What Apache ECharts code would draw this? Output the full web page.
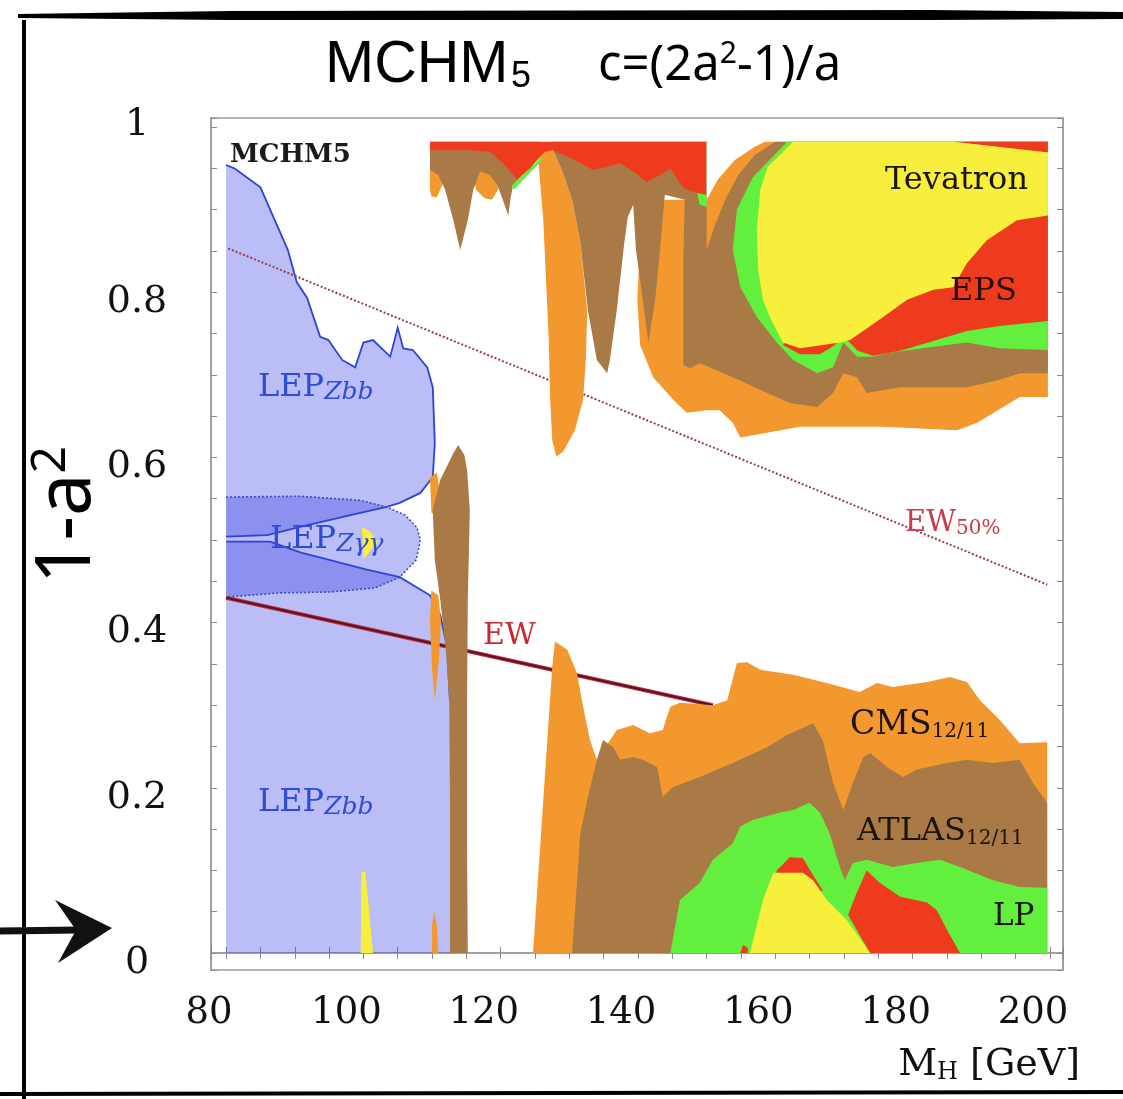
<!DOCTYPE html>
<html><head><meta charset="utf-8">
<script src="https://cdn.jsdelivr.net/npm/echarts@6/dist/echarts.min.js"></script>
<style>html,body{margin:0;padding:0;background:#fff}#c{width:1123px;height:1099px}</style>
</head><body><div id="c"></div>
<script>
// ---------- axis ticks ----------
const X_LABEL_STEP = 20;            // labelled ticks 80..200
const Y_LABEL_STEP = 0.2;           // labelled ticks 0..1

// ---------- LEP regions (M_H [GeV], 1-a^2) ----------
const LEP_ZBB_UPPER = [[80,0.504],[80,0.954],[81.2,0.950],[85.0,0.927],[89.0,0.851],[90.3,0.812],[91.8,0.793],[93.7,0.746],[94.9,0.742],[96.9,0.718],[98.8,0.709],[100.0,0.739],[101.4,0.742],[103.9,0.722],[105.0,0.757],[105.8,0.732],[107.2,0.730],[109.3,0.709],[110.1,0.685],[110.4,0.617],[110.1,0.576],[108.3,0.557],[105.3,0.545],[103.4,0.540],[98.1,0.530],[90.8,0.516],[86.0,0.506]];
const LEP_ZBB_LOWER = [[80,0.498],[86.4,0.498],[90.8,0.485],[100.5,0.464],[105.3,0.455],[109.7,0.433],[111.2,0.409],[112.2,0.370],[112.6,0.306],[112.6,0],[80,0]];
const LEP_ZAA = [[80,0.552],[90.8,0.553],[99.5,0.548],[103.4,0.540],[106.1,0.530],[107.8,0.515],[108.3,0.500],[107.7,0.476],[105.3,0.455],[101.7,0.442],[95.1,0.437],[87.9,0.436],[80,0.431]];

// ---------- electroweak lines ----------
const EW_LINE = [[80,0.430],[150.9,0.300]];
const EW50_LINE = [[80.3,0.853],[199.6,0.446]];

// ---------- CMS 12/11 (orange) ----------
const CMS_TOP1 = [[109.7,0.960],[111.9,0.960],[111.5,0.930],[110.7,0.915],[109.9,0.916],[109.7,0.924]];
const CMS_TOP2 = [[115.8,0.951],[119.9,0.951],[119.6,0.924],[118.7,0.912],[117.6,0.914],[116.4,0.924]];
const CMS_FINGER = [[125.4,0.972],[127.6,0.972],[128.9,0.948],[130.4,0.912],[131.6,0.860],[132.6,0.778],[132.4,0.718],[132.0,0.670],[130.8,0.633],[129.1,0.607],[128.1,0.601],[127.5,0.621],[127.2,0.670],[127.0,0.742],[126.6,0.815],[126.2,0.887],[125.7,0.936]];
const CMS_TOP_RIGHT = [[139.9,0.791],[140.3,0.863],[141.7,0.906],[143.2,0.912],[150.0,0.912],[151.6,0.936],[154.1,0.960],[157.0,0.976],[158.5,0.982],[199.7,0.982],[199.7,0.673],[195.6,0.673],[189.4,0.642],[186.5,0.633],[175.7,0.637],[163.6,0.637],[154.9,0.624],[153.8,0.642],[151.9,0.657],[150.0,0.657],[147.1,0.654],[145.1,0.670],[142.2,0.697],[140.3,0.736]];
const CMS_BOTTOM = [[124.7,0],[126.2,0.185],[127.5,0.346],[127.9,0.377],[129.7,0.367],[131.1,0.339],[132.0,0.298],[133.0,0.258],[134.0,0.234],[136.9,0.270],[139.3,0.276],[141.7,0.266],[143.6,0.270],[144.7,0.298],[146.1,0.303],[150.9,0.300],[153.0,0.306],[154.4,0.351],[155.9,0.352],[157.8,0.343],[162.6,0.337],[167.5,0.327],[172.3,0.316],[174.8,0.327],[177.1,0.322],[182.1,0.328],[185.4,0.334],[187.9,0.328],[189.8,0.306],[192.7,0.282],[195.6,0.254],[199.6,0.255],[199.6,0]];
const CMS_SLIVER1 = [[109.7,0.575],[110.7,0.582],[111.3,0.548],[110.7,0.530],[109.9,0.533]];
const CMS_SLIVER2 = [[109.9,0.439],[110.9,0.433],[111.3,0.403],[111.0,0.355],[110.4,0.306],[110.0,0.343],[109.7,0.403]];
const CMS_SLIVER3 = [[110.0,0],[110.0,0.034],[110.3,0.050],[110.7,0.034],[110.9,0]];

// ---------- ATLAS 12/11 (brown) ----------
const ATLAS_TOP_LEFT = [[109.7,0.982],[125.7,0.982],[125.7,0.964],[125.3,0.960],[123.1,0.942],[121.8,0.930],[121.4,0.912],[121.1,0.893],[120.3,0.912],[119.5,0.930],[118.4,0.942],[117.0,0.946],[116.0,0.924],[115.2,0.887],[114.1,0.851],[113.1,0.887],[111.9,0.924],[110.9,0.942],[109.7,0.948]];
const ATLAS_TOP_MID = [[127.6,0.982],[150.0,0.982],[150.0,0.915],[146.8,0.912],[143.9,0.918],[143.2,0.851],[142.5,0.791],[141.5,0.739],[140.7,0.791],[139.7,0.851],[139.3,0.906],[138.5,0.891],[138.0,0.860],[136.9,0.778],[135.9,0.718],[135.5,0.702],[134.0,0.718],[132.7,0.778],[131.6,0.860],[130.4,0.912],[128.9,0.948],[127.6,0.972]];
const ATLAS_TOP_RIGHT = [[146.6,0.712],[146.6,0.839],[146.8,0.912],[148.6,0.920],[150.0,0.915],[150.0,0.851],[151.2,0.881],[152.7,0.912],[154.6,0.942],[157.0,0.966],[160.0,0.982],[199.7,0.982],[199.7,0.702],[195.6,0.702],[192.7,0.694],[187.9,0.685],[178.2,0.685],[173.3,0.678],[171.9,0.697],[169.9,0.702],[168.4,0.678],[166.1,0.661],[162.1,0.666],[158.8,0.678],[153.8,0.697],[149.0,0.714],[147.6,0.708]];
const ATLAS_SPIKE = [[112.6,0],[112.6,0.185],[112.5,0.306],[112.0,0.367],[111.2,0.427],[110.4,0.476],[110.1,0.536],[111.2,0.573],[113.1,0.605],[113.8,0.615],[114.7,0.603],[115.1,0.585],[115.5,0.536],[115.2,0.427],[115.1,0.306],[115.1,0.125],[115.2,0]];
const ATLAS_BOTTOM = [[130.4,0],[131.6,0.145],[132.6,0.185],[134.0,0.234],[134.9,0.258],[136.4,0.249],[137.4,0.234],[139.3,0.237],[140.7,0.234],[142.8,0.225],[143.6,0.189],[145.1,0.201],[149.0,0.213],[153.8,0.230],[158.8,0.249],[161.7,0.264],[165.5,0.278],[166.9,0.258],[168.4,0.206],[169.9,0.173],[171.3,0.206],[172.8,0.237],[173.8,0.242],[176.3,0.225],[178.6,0.213],[180.6,0.222],[185.0,0.230],[187.9,0.234],[191.7,0.230],[195.6,0.234],[197.5,0.206],[199.6,0.182],[199.6,0]];

// ---------- LP (green) ----------
const LP_SLIVER1 = [[121.6,0.929],[123.1,0.941],[125.0,0.956],[125.9,0.964],[126.0,0.959],[125.1,0.952],[123.4,0.937],[121.9,0.924]];
const LP_SLIVER2 = [[148.6,0.920],[150.0,0.920],[150.0,0.903],[149.0,0.906]];
const LP_TOP = [[161.7,0.982],[158.2,0.952],[156.7,0.939],[154.4,0.900],[153.8,0.851],[154.9,0.806],[157.3,0.770],[160.2,0.739],[162.6,0.718],[166.1,0.702],[168.4,0.709],[169.9,0.739],[171.9,0.722],[174.2,0.722],[176.3,0.726],[183.0,0.734],[187.9,0.739],[192.7,0.732],[199.7,0.730],[199.7,0.982]];
const LP_BOTTOM = [[144.7,0],[146.1,0.064],[149.0,0.085],[150.9,0.113],[153.8,0.133],[154.9,0.153],[156.7,0.161],[160.7,0.170],[162.6,0.173],[165.0,0.182],[166.5,0.170],[167.9,0.145],[169.4,0.104],[170.1,0.088],[171.3,0.109],[173.3,0.113],[177.1,0.104],[180.6,0.109],[184.0,0.113],[186.9,0.104],[191.7,0.088],[195.6,0.080],[199.6,0.079],[199.6,0]];

// ---------- EPS (red) ----------
const EPS_TOP_BAND = [[109.7,0.982],[149.9,0.982],[149.9,0.918],[148.6,0.920],[146.6,0.926],[144.7,0.950],[143.2,0.942],[141.3,0.933],[139.3,0.946],[137.4,0.956],[135.5,0.952],[133.4,0.948],[130.8,0.960],[127.6,0.972],[126.5,0.970],[125.7,0.964],[124.3,0.950],[122.4,0.936],[120.6,0.954],[118.4,0.970],[115.5,0.972],[109.7,0.972]];
const EPS_RIGHT = [[161.1,0.736],[163.6,0.725],[166.5,0.725],[168.3,0.734],[169.4,0.741],[170.6,0.741],[172.0,0.729],[174.2,0.723],[178.2,0.729],[183.0,0.741],[187.9,0.753],[192.7,0.759],[199.7,0.765],[199.7,0.900],[192.7,0.881],[186.9,0.839],[178.2,0.791],[170.9,0.754],[162.1,0.745]];
const EPS_CORNER = [[185.9,0.982],[199.7,0.982],[199.7,0.969]];
const EPS_BOTTOM1 = [[160.0,0.064],[160.2,0.100],[162.1,0.116],[164.0,0.115],[165.5,0.094],[166.9,0.076],[165.8,0.070],[163.6,0.076]];
const EPS_BOTTOM2 = [[170.6,0.046],[171.7,0.070],[173.3,0.100],[175.2,0.085],[178.2,0.068],[182.1,0.061],[183.5,0.052],[185.0,0.028],[186.9,0],[173.8,0]];
const EPS_BOTTOM3 = [[154.9,0],[155.3,0.010],[156.0,0.006],[156.0,0]];

// ---------- Tevatron (yellow) ----------
const TEV_TOP = [[162.6,0.982],[185.9,0.982],[199.7,0.969],[199.7,0.893],[195.2,0.887],[190.8,0.863],[187.9,0.835],[185.9,0.806],[183.0,0.803],[179.2,0.791],[175.7,0.770],[170.9,0.742],[169.4,0.739],[163.6,0.732],[161.1,0.739],[159.2,0.770],[158.2,0.791],[157.5,0.827],[157.3,0.875],[157.8,0.924],[158.9,0.952]];
const TEV_BOTTOM = [[156.3,0],[158.2,0.064],[159.7,0.097],[164.0,0.097],[165.5,0.088],[167.5,0.064],[170.4,0.040],[173.8,0]];
const TEV_BLOB = [[99.8,0.516],[101.0,0.510],[102.1,0.497],[101.0,0.487],[100.0,0.476]];
const TEV_SPIKE = [[99.6,0],[99.7,0.098],[100.3,0.098],[101.4,0]];

// ---------- colours ----------
const C_LEP = 'rgba(48,57,228,0.333)';
const C_BLUE = '#2f44d4';
const C_CMS = '#f3982f';
const C_ATLAS = '#a97a45';
const C_LP = '#62ef3e';
const C_EPS = '#ee3b1e';
const C_TEV = '#f8ef3c';

const chart = echarts.init(document.getElementById('c'), null, {renderer: 'canvas'});

function poly(name, pts, style) {
  return {
    type: 'custom', name: name, data: pts, silent: true, animation: false,
    renderItem: function (params, api) {
      if (params.dataIndex !== 0) return null;
      return { type: 'polygon', shape: { points: pts.map(p => api.coord(p)) }, style: style };
    }
  };
}
function pline(name, pts, style) {
  return {
    type: 'custom', name: name, data: pts, silent: true, animation: false,
    renderItem: function (params, api) {
      if (params.dataIndex !== 0) return null;
      return { type: 'polyline', shape: { points: pts.map(p => api.coord(p)) }, style: Object.assign({ fill: null }, style) };
    }
  };
}

const upperOutline = LEP_ZBB_UPPER.slice(1).concat([LEP_ZBB_UPPER[0]]);
const lowerOutline = LEP_ZBB_LOWER.slice(0, 9);

const series = [
  poly('LEP Zbb upper', LEP_ZBB_UPPER, { fill: C_LEP }),
  poly('LEP Zbb lower', LEP_ZBB_LOWER, { fill: C_LEP }),
  poly('LEP Zγγ', LEP_ZAA, { fill: C_LEP }),
  pline('LEP Zγγ edge', LEP_ZAA, { stroke: '#3a4bc8', lineWidth: 1.6, lineDash: [2, 2] }),
  pline('LEP Zbb edge upper', upperOutline, { stroke: C_BLUE, lineWidth: 1.8 }),
  pline('LEP Zbb edge lower', lowerOutline, { stroke: C_BLUE, lineWidth: 1.8 }),
  pline('EW 50%', EW50_LINE, { stroke: '#9a3a50', lineWidth: 2, lineDash: [2, 2] }),
  pline('EW', EW_LINE, { stroke: '#c0303a', lineWidth: 4 }),
  pline('EW core', EW_LINE, { stroke: '#5a1228', lineWidth: 2 }),
  poly('CMS a', CMS_TOP1, { fill: C_CMS }),
  poly('CMS b', CMS_TOP2, { fill: C_CMS }),
  poly('CMS c', CMS_FINGER, { fill: C_CMS }),
  poly('CMS d', CMS_TOP_RIGHT, { fill: C_CMS }),
  poly('CMS e', CMS_BOTTOM, { fill: C_CMS }),
  poly('CMS f', CMS_SLIVER1, { fill: C_CMS }),
  poly('CMS g', CMS_SLIVER2, { fill: C_CMS }),
  poly('CMS h', CMS_SLIVER3, { fill: C_CMS }),
  poly('ATLAS a', ATLAS_TOP_LEFT, { fill: C_ATLAS }),
  poly('ATLAS b', ATLAS_TOP_MID, { fill: C_ATLAS }),
  poly('ATLAS c', ATLAS_TOP_RIGHT, { fill: C_ATLAS }),
  poly('ATLAS d', ATLAS_SPIKE, { fill: C_ATLAS }),
  poly('ATLAS e', ATLAS_BOTTOM, { fill: C_ATLAS }),
  poly('LP a', LP_SLIVER1, { fill: C_LP }),
  poly('LP b', LP_SLIVER2, { fill: C_LP }),
  poly('LP c', LP_TOP, { fill: C_LP }),
  poly('LP d', LP_BOTTOM, { fill: C_LP }),
  poly('EPS a', EPS_TOP_BAND, { fill: C_EPS }),
  poly('EPS b', EPS_RIGHT, { fill: C_EPS }),
  poly('EPS c', EPS_CORNER, { fill: C_EPS }),
  poly('EPS d', EPS_BOTTOM1, { fill: C_EPS }),
  poly('EPS e', EPS_BOTTOM2, { fill: C_EPS }),
  poly('EPS f', EPS_BOTTOM3, { fill: C_EPS }),
  poly('Tevatron a', TEV_TOP, { fill: C_TEV }),
  poly('Tevatron b', TEV_BOTTOM, { fill: C_TEV }),
  poly('Tevatron c', TEV_BLOB, { fill: C_TEV }),
  poly('Tevatron d', TEV_SPIKE, { fill: C_TEV })
];

const SERIF = '"DejaVu Serif", serif';
const near = (v, s) => Math.abs(v / s - Math.round(v / s)) < 1e-6;

const xAxisBase = {
  type: 'value', min: 77.8, max: 201.9, minInterval: 5, maxInterval: 5, splitNumber: 25,
  axisLine: { show: true, lineStyle: { color: '#9a9a9a', width: 1.5 } },
  axisTick: { show: true, inside: true, length: 6, lineStyle: { color: '#8a8a8a', width: 1 } },
  splitLine: { show: false }
};
const yAxisBase = {
  type: 'value', min: -0.0206, max: 1.0109, minInterval: 0.05, maxInterval: 0.05, splitNumber: 20,
  axisLine: { show: true, lineStyle: { color: '#9a9a9a', width: 1.5 } },
  axisTick: { show: true, inside: true, length: 6, lineStyle: { color: '#8a8a8a', width: 1 } },
  splitLine: { show: false }
};

const option = {
  animation: false,
  backgroundColor: '#ffffff',
  grid: { left: 211, right: 60, top: 118, bottom: 129, containLabel: false, outerBoundsMode: 'none',
          show: true, borderColor: '#9a9a9a', borderWidth: 1.5, backgroundColor: 'transparent' },
  xAxis: [
    Object.assign({}, xAxisBase, { position: 'bottom',
      axisLabel: { show: true, margin: 25, fontSize: 37, fontFamily: SERIF, color: '#111', padding: [0, 34, 0, 0],
        formatter: v => (near(v, X_LABEL_STEP) && v >= 79.9) ? String(Math.round(v)) : '' } }),
    Object.assign({}, xAxisBase, { position: 'top', axisLabel: { show: false } })
  ],
  yAxis: [
    Object.assign({}, yAxisBase, { position: 'left',
      axisLabel: { show: true, margin: 74, align: 'center',
        formatter: function (v) {
          if (!near(v, Y_LABEL_STEP) || v < -1e-6 || v > 1.0001) return '';
          const k = Math.round(v / Y_LABEL_STEP);
          if (k === 5) return '{t|1}';
          return '{n|' + (k === 0 ? '0' : (k * Y_LABEL_STEP).toFixed(1)) + '}';
        },
        rich: {
          n: { fontSize: 38, fontFamily: SERIF, color: '#111', padding: [20, 0, 0, 0] },
          t: { fontSize: 38, fontFamily: SERIF, color: '#111', padding: [0, 0, 4, 0] }
        } } }),
    Object.assign({}, yAxisBase, { position: 'right', axisLabel: { show: false } })
  ],
  series: series,
  graphic: [
    // sketchy frame
    { type: 'polygon', shape: { points: [[18, 14], [230, 11], [930, 10], [1123, 12], [1123, 19], [930, 20], [230, 20], [18, 18]] }, style: { fill: '#000' }, z: 100 },
    { type: 'line', shape: { x1: 24, y1: 20, x2: 24, y2: 1099 }, style: { stroke: '#000', lineWidth: 4 }, z: 100 },
    { type: 'line', shape: { x1: 0, y1: 1094, x2: 1123, y2: 1092 }, style: { stroke: '#000', lineWidth: 4 }, z: 100 },
    { type: 'line', shape: { x1: 0, y1: 931, x2: 80, y2: 930 }, style: { stroke: '#111', lineWidth: 7 }, z: 100 },
    { type: 'polygon', shape: { points: [[55, 900], [112, 928], [58, 963], [76, 930]] }, style: { fill: '#111' }, z: 100 },
    // title
    { type: 'text', x: 325, y: 66, z: 100, style: { text: 'MCHM', font: '59px "Liberation Sans"', fill: '#000', align: 'left', verticalAlign: 'middle' } },
    { type: 'text', x: 511, y: 77, z: 100, style: { text: '5', font: '36px "Liberation Sans"', fill: '#000', align: 'left', verticalAlign: 'middle' } },
    { type: 'text', x: 598, y: 66, z: 100, style: { text: '{n|c=(2a}{s|2}{n|-1)/a}', align: 'left', verticalAlign: 'middle',
        rich: { n: { fontSize: 49, fontFamily: '"Noto Sans"', fill: '#000', lineHeight: 60 },
                s: { fontSize: 30, fontFamily: '"Noto Sans"', fill: '#000', lineHeight: 60, padding: [0, 0, 24, 0] } } } },
    // y axis title
    { type: 'text', x: 68, y: 515, rotation: Math.PI / 2, z: 100, style: { text: '{a|1-a}{s|2}', align: 'center', verticalAlign: 'middle',
        rich: { a: { fontSize: 76, fontFamily: '"Noto Sans"', fill: '#000', lineHeight: 90 },
                s: { fontSize: 48, fontFamily: '"Noto Sans"', fill: '#000', lineHeight: 90, padding: [0, 0, 34, 0] } } } },
    // x axis title
    { type: 'text', x: 1080, y: 1065, z: 100, style: { text: '{a|M}{b|H}{a| [GeV]}', align: 'right', verticalAlign: 'middle',
        rich: { a: { fontSize: 38, fontFamily: SERIF, fill: '#111', lineHeight: 44 },
                b: { fontSize: 24, fontFamily: SERIF, fill: '#111', lineHeight: 44, padding: [16, 0, 0, 0] } } } },
    // annotations
    { type: 'text', x: 230, y: 155, z: 100, style: { text: 'MCHM5', font: 'bold 26px ' + SERIF, fill: '#1a1a1a', align: 'left', verticalAlign: 'middle' } },
    { type: 'text', x: 258, y: 388, z: 100, style: { text: '{a|LEP}{b|Zbb}', align: 'left', verticalAlign: 'middle',
        rich: { a: { fontSize: 32, fontFamily: SERIF, fill: '#2e4cd6', lineHeight: 40 }, b: { fontSize: 25, fontFamily: SERIF, fontStyle: 'italic', fill: '#2e4cd6', lineHeight: 40, padding: [8, 0, 0, 0] } } } },
    { type: 'text', x: 270, y: 540, z: 100, style: { text: '{a|LEP}{b|Zγγ}', align: 'left', verticalAlign: 'middle',
        rich: { a: { fontSize: 32, fontFamily: SERIF, fill: '#2e4cd6', lineHeight: 40 }, b: { fontSize: 25, fontFamily: SERIF, fontStyle: 'italic', fill: '#2e4cd6', lineHeight: 40, padding: [8, 0, 0, 0] } } } },
    { type: 'text', x: 258, y: 803, z: 100, style: { text: '{a|LEP}{b|Zbb}', align: 'left', verticalAlign: 'middle',
        rich: { a: { fontSize: 32, fontFamily: SERIF, fill: '#2e4cd6', lineHeight: 40 }, b: { fontSize: 25, fontFamily: SERIF, fontStyle: 'italic', fill: '#2e4cd6', lineHeight: 40, padding: [8, 0, 0, 0] } } } },
    { type: 'text', x: 483, y: 636, z: 100, style: { text: 'EW', font: '30px ' + SERIF, fill: '#c42a30', align: 'left', verticalAlign: 'middle' } },
    { type: 'text', x: 905, y: 523, z: 100, style: { text: '{a|EW}{b|50%}', align: 'left', verticalAlign: 'middle',
        rich: { a: { fontSize: 29, fontFamily: SERIF, fill: '#c8394a', lineHeight: 36 }, b: { fontSize: 20, fontFamily: SERIF, fill: '#c8394a', lineHeight: 36, padding: [12, 0, 0, 0] } } } },
    { type: 'text', x: 885, y: 181, z: 100, style: { text: 'Tevatron', font: '32px ' + SERIF, fill: '#1c1408', align: 'left', verticalAlign: 'middle' } },
    { type: 'text', x: 950, y: 292, z: 100, style: { text: 'EPS', font: '32px ' + SERIF, fill: '#2a0e06', align: 'left', verticalAlign: 'middle' } },
    { type: 'text', x: 850, y: 725, z: 100, style: { text: '{a|CMS}{b|12/11}', align: 'left', verticalAlign: 'middle',
        rich: { a: { fontSize: 33, fontFamily: SERIF, fill: '#1c1408', lineHeight: 40 }, b: { fontSize: 20, fontFamily: SERIF, fill: '#1c1408', lineHeight: 40, padding: [14, 0, 0, 0] } } } },
    { type: 'text', x: 857, y: 832, z: 100, style: { text: '{a|ATLAS}{b|12/11}', align: 'left', verticalAlign: 'middle',
        rich: { a: { fontSize: 32, fontFamily: SERIF, fill: '#1c1408', lineHeight: 40 }, b: { fontSize: 20, fontFamily: SERIF, fill: '#1c1408', lineHeight: 40, padding: [14, 0, 0, 0] } } } },
    { type: 'text', x: 993, y: 917, z: 100, style: { text: 'LP', font: '31px ' + SERIF, fill: '#1c1408', align: 'left', verticalAlign: 'middle' } }
  ]
};
chart.setOption(option);
</script>
</body></html>
